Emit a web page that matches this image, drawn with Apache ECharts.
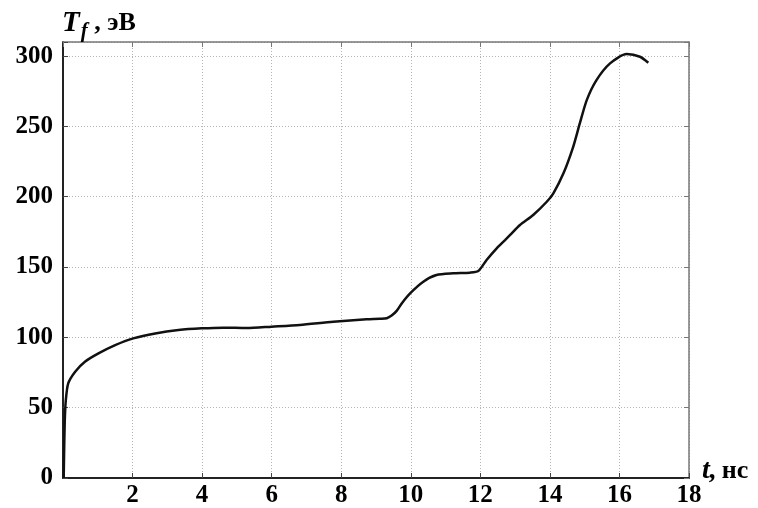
<!DOCTYPE html>
<html>
<head>
<meta charset="utf-8">
<script src="https://cdn.jsdelivr.net/npm/echarts@6/dist/echarts.min.js"></script>
<style>html,body{margin:0;padding:0;background:#fff;}#c{width:758px;height:508px;}</style>
</head>
<body>
<div id="c"></div>
<script>
const tValues = [0.02,0.03,0.05,0.08,0.15,0.35,0.63,1.02,1.5,2.02,2.65,3.32,3.99,4.61,5.28,6.0,6.81,7.77,8.73,9.11,9.31,9.45,9.6,9.75,9.98,10.36,10.74,11.22,11.7,11.94,12.18,12.47,12.71,12.85,13.14,13.52,13.91,14.1,14.39,14.67,14.86,15.06,15.34,15.73,16.21,16.59,16.83];
const tfValues = [0,15,40,55,67.3,75.6,82.7,88.6,94.5,99.3,102.8,105.2,106.4,106.9,106.6,107.6,108.8,111.1,112.8,113.2,113.6,115.5,119,124.5,131.3,139.6,144.3,145.5,146,147.2,155,163.3,169.2,172.7,179.9,187,196.4,202.4,216.6,235.5,252.1,268.7,282.9,294.8,301.4,299.5,295.2];
const xTicks = [2,4,6,8,10,12,14,16,18];
const yTicks = [0,50,100,150,200,250,300];

const chart = echarts.init(document.getElementById('c'));
const font = '"Liberation Serif", "Times New Roman", serif';
const data = tValues.map((t,i)=>[t,tfValues[i]]);
const gridStyle = {show:true, lineStyle:{color:'#b5b5b5', type:[1,2], width:1}};
chart.setOption({
  animation:false,
  backgroundColor:'#fff',
  title:[{
    left:57, top:0,
    text:'{t|T}{f|f}{c| , эВ}',
    textStyle:{rich:{
      t:{fontFamily:font,fontStyle:'italic',fontWeight:'bold',fontSize:29,color:'#000'},
      f:{fontFamily:font,fontStyle:'italic',fontWeight:'bold',fontSize:21,color:'#000',verticalAlign:'bottom',padding:[16,0,0,1]},
      c:{fontFamily:font,fontWeight:'bold',fontSize:26,color:'#000'}
    }}
  },{
    left:697, top:452,
    text:'{t|t,} {c|нс}',
    textStyle:{rich:{
      t:{fontFamily:font,fontStyle:'italic',fontWeight:'bold',fontSize:28,color:'#000'},
      c:{fontFamily:font,fontWeight:'bold',fontSize:26,color:'#000'}
    }}
  }],
  grid:{left:63,right:69,top:42,bottom:30,containLabel:false},
  xAxis:[{
    type:'value', min:0, max:18, interval:2,
    axisLine:{show:true,onZero:false,lineStyle:{color:'#222',width:2}},
    axisTick:{show:true,inside:true,length:5,lineStyle:{color:'#444'}},
    axisLabel:{show:true,margin:5,fontFamily:font,fontWeight:'bold',fontSize:25,color:'#000',
      formatter:v=>xTicks.includes(v)?String(v):''},
    splitLine:gridStyle
  },{
    type:'value', position:'top', min:0, max:18, interval:2,
    axisLine:{show:true,onZero:false,lineStyle:{color:'#777',width:1.5}},
    axisTick:{show:true,inside:true,length:5,lineStyle:{color:'#777'}},
    axisLabel:{show:false}, splitLine:{show:false}
  }],
  yAxis:[{
    type:'value', min:0, max:310, interval:50,
    axisLine:{show:true,onZero:false,lineStyle:{color:'#222',width:2}},
    axisTick:{show:true,inside:true,length:5,lineStyle:{color:'#444'}},
    axisLabel:{show:true,margin:10,fontFamily:font,fontWeight:'bold',fontSize:25,color:'#000',
      formatter:v=>yTicks.includes(v)?String(v):''},
    splitLine:gridStyle
  },{
    type:'value', position:'right', min:0, max:310, interval:50,
    axisLine:{show:true,onZero:false,lineStyle:{color:'#777',width:1.5}},
    axisTick:{show:true,inside:true,length:5,lineStyle:{color:'#777'}},
    axisLabel:{show:false}, splitLine:{show:false}
  }],
  series:[{
    type:'line', data:data, showSymbol:false, smooth:0.25,
    lineStyle:{color:'#111',width:2.5}
  }]
});
</script>
</body>
</html>
